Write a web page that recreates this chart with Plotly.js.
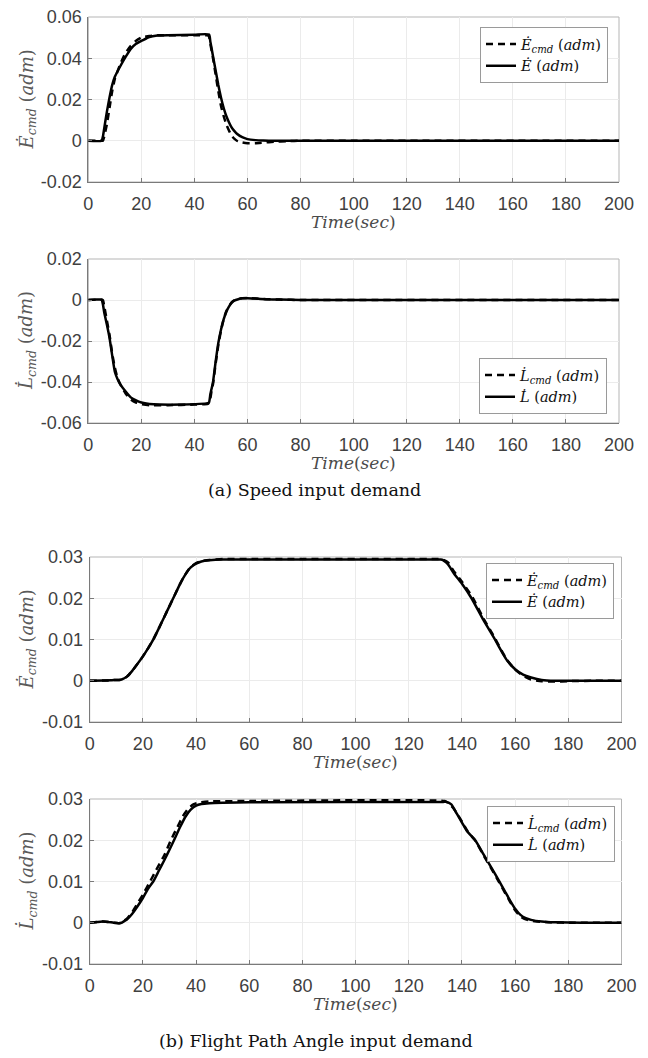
<!DOCTYPE html>
<html>
<head>
<meta charset="utf-8">
<script src="https://cdn.plot.ly/plotly-3.0.1.min.js"></script>
<style>html,body{margin:0;padding:0;background:#fff;}#chart{width:648px;height:1058px;}</style>
</head>
<body>
<div id="chart"></div>
<script>
// ---------- (a) Speed input demand : E-dot ----------
const speedEcmdT = [0,5,5.5,6,7,8,9,10,12,14,16,18,20,23,26,30,40,45,45.5,46,47,48,49,50,51,52,53,54,55,56,58,60,63,66,70,75,80,100,200];
const speedEcmdV = [0,0,0,0.002,0.008,0.016,0.024,0.030,0.037,0.0425,0.046,0.0485,0.0500,0.0508,0.0511,0.0511,0.0511,0.0511,0.0505,0.047,0.040,0.032,0.024,0.017,0.012,0.008,0.005,0.0025,0.001,0,-0.0008,-0.0012,-0.0012,-0.0009,-0.0005,-0.0002,0,0,0];
const speedET = [0,5,5.5,6,7,8,9,10,12,14,16,18,20.6,23,26,30,40,45.5,46,47,48,49,50,51,52,53,54,55,56,58,60,63,66,70,80,200];
const speedEV = [0,0,0.002,0.006,0.014,0.021,0.027,0.031,0.036,0.0405,0.0445,0.047,0.0488,0.0503,0.051,0.0512,0.0514,0.0515,0.048,0.041,0.034,0.027,0.021,0.016,0.012,0.009,0.0065,0.0048,0.0034,0.0017,0.0008,0.0003,0.0001,0,0,0];

// ---------- (a) Speed input demand : L-dot ----------
const speedLcmdT = [0,3,4.5,5.5,6,7,8,9,10,11,12,14,16,18,20,23,30,40,45,45.5,46,46.5,47,48,49,50,51,52,53,54,55,56.5,58,60,63,67,72,80,200];
const speedLcmdV = [0,0.0002,0.0003,0,-0.003,-0.010,-0.017,-0.026,-0.033,-0.038,-0.041,-0.0455,-0.0485,-0.050,-0.0508,-0.0513,-0.0513,-0.051,-0.0507,-0.050,-0.048,-0.044,-0.041,-0.031,-0.022,-0.015,-0.0095,-0.0055,-0.003,-0.0012,-0.0002,0.0005,0.0009,0.001,0.0007,0.0004,0.0002,0,0];
const speedLT = [0,3,4.5,5,5.5,6,7,8,9,10,11,12,14,16,18,20,23,27,35,45,45.5,46,46.5,47,48,49,50,51,52,53,54,55,56.5,58,60,63,67,72,80,200];
const speedLV = [0,0.0002,0.0003,0.0002,-0.002,-0.006,-0.012,-0.0185,-0.027,-0.035,-0.0385,-0.041,-0.0445,-0.0475,-0.049,-0.050,-0.0507,-0.051,-0.051,-0.0503,-0.0500,-0.046,-0.043,-0.040,-0.030,-0.021,-0.0145,-0.0095,-0.0058,-0.0032,-0.0014,-0.0003,0.0004,0.0008,0.0009,0.0007,0.0004,0.0002,0,0];

// ---------- (b) Flight Path Angle input demand : E-dot ----------
const fpaEcmdT = [0,8,10,11,12,14,16,18,20,22,24,26,28,30,32,34,36,38,40,42,45,50,60,131,132,134,135,137,140,144,148,152.5,155,157,160,163,166,170,175,180,190,200];
const fpaEcmdV = [0,0.0001,0.0002,0.0002,0.0003,0.001,0.0024,0.0041,0.0059,0.0079,0.0101,0.0127,0.0154,0.0181,0.0208,0.0235,0.0258,0.0276,0.0285,0.029,0.0293,0.0295,0.0295,0.0295,0.0295,0.029,0.0285,0.0265,0.024,0.0202,0.0152,0.0102,0.0072,0.005,0.0027,0.0012,0.0003,-0.0001,-0.0002,-0.0001,0,0];
const fpaET = [0,8,10,11,12,14,16,18,20,22,24,26,28,30,32,34,36,38,40,42,45,50,60,131,132,133,134,135,137,140,143.6,148,152.4,155,157,160,163,166,170,175,200];
const fpaEV = [0,0.0001,0.0002,0.0002,0.0003,0.001,0.0024,0.0041,0.0059,0.0079,0.0101,0.0127,0.0154,0.0181,0.0208,0.0235,0.0258,0.0275,0.0284,0.0289,0.0292,0.0294,0.0294,0.0294,0.0294,0.0292,0.0287,0.028,0.026,0.0235,0.02,0.0148,0.01,0.007,0.0049,0.0028,0.0015,0.0008,0.0002,0,0];

// ---------- (b) Flight Path Angle input demand : L-dot ----------
const fpaLcmdT = [0,3,5,7,9,11,12,13,14,16,18,20,22.7,25,28,30.5,33,35,37,39,41,45,60,133.5,135,137,140,142,145,148,151,154,156,158,160,162,164,166,170,175,180,200];
const fpaLcmdV = [0,0.0002,0.0003,0.0002,0,-0.0001,0,0.0005,0.001,0.0026,0.0047,0.0068,0.01,0.0128,0.0163,0.02,0.0232,0.0258,0.0276,0.0287,0.0291,0.0294,0.0295,0.0295,0.029,0.0276,0.0245,0.0223,0.0199,0.0165,0.0132,0.0098,0.0075,0.0052,0.003,0.0015,0.0008,0.0005,0.0002,0.0001,0,0];
const fpaLT = [0,3,5,7,9,11,12,13,14,16,18,20,22,23.9,26,28,30,31.7,34,36,38,40,42,45,50,60,133,134,136,138,140,142,145,148,151,154,156,158,160,162,164,166,170,175,185,200];
const fpaLV = [0,0.0002,0.0003,0.0002,0,-0.0001,0,0.0004,0.0008,0.0022,0.004,0.006,0.0083,0.01,0.0126,0.0151,0.0177,0.02,0.0232,0.0257,0.0274,0.0284,0.0288,0.029,0.0291,0.0292,0.0293,0.0293,0.0287,0.0265,0.0243,0.0221,0.02,0.0167,0.0134,0.0101,0.0078,0.0055,0.0034,0.0019,0.0011,0.0007,0.0003,0.0001,0,0];

// ---------- tick labels ----------
const xTickVals = [0,20,40,60,80,100,120,140,160,180,200];
const xTickText = ['0','20','40','60','80','100','120','140','160','180','200'];
const y1TickVals = [-0.02,0,0.02,0.04,0.06];
const y1TickText = ['-0.02','0','0.02','0.04','0.06'];
const y2TickVals = [-0.06,-0.04,-0.02,0,0.02];
const y2TickText = ['-0.06','-0.04','-0.02','0','0.02'];
const y3TickVals = [-0.01,0,0.01,0.02,0.03];
const y3TickText = ['-0.01','0','0.01','0.02','0.03'];

// ---------- text ----------
const labelEcmd = '<i>Ė</i><sub><i>cmd</i></sub> (<i>adm</i>)';
const labelE = '<i>Ė</i> (<i>adm</i>)';
const labelLcmd = '<i>L\u0307</i><sub><i>cmd</i></sub> (<i>adm</i>)';
const labelL = '<i>L\u0307</i> (<i>adm</i>)';
const xTitle = '<i>Time</i>(<i>sec</i>)';
const captionA = '(a) Speed input demand';
const captionB = '(b) Flight Path Angle input demand';

// ---------- geometry (pixels) ----------
const W = 648, H = 1058;
const px = v => v / W;
const py = v => 1 - v / H;
const boxes = [
  {l: 88.3, r: 619, t: 17, b: 182},
  {l: 88.3, r: 619, t: 259, b: 423},
  {l: 89.7, r: 621.5, t: 557, b: 722},
  {l: 89.7, r: 621.5, t: 799, b: 964}
];

const dashW = 2.5, solidW = 2.5;
function tr(x, y, name, dashed, i, lg) {
  return {
    x: x, y: y, name: name, type: 'scatter', mode: 'lines',
    xaxis: i === 1 ? 'x' : 'x' + i, yaxis: i === 1 ? 'y' : 'y' + i,
    legend: lg,
    line: {color: '#000', width: dashed ? dashW : solidW, dash: dashed ? '7px,5px' : 'solid', shape: 'spline', smoothing: 0.5},
    hoverinfo: 'skip'
  };
}

const data = [
  tr(speedEcmdT, speedEcmdV, labelEcmd, true, 1, 'legend'),
  tr(speedET, speedEV, labelE, false, 1, 'legend'),
  tr(speedLcmdT, speedLcmdV, labelLcmd, true, 2, 'legend2'),
  tr(speedLT, speedLV, labelL, false, 2, 'legend2'),
  tr(fpaEcmdT, fpaEcmdV, labelEcmd, true, 3, 'legend3'),
  tr(fpaET, fpaEV, labelE, false, 3, 'legend3'),
  tr(fpaLcmdT, fpaLcmdV, labelLcmd, true, 4, 'legend4'),
  tr(fpaLT, fpaLV, labelL, false, 4, 'legend4')
];

const axCol = '#7a7a7a';
const tickFont = {family: 'Liberation Sans, Arial, sans-serif', size: 18, color: '#404040'};
function xa(i) {
  const b = boxes[i - 1];
  return {
    domain: [px(b.l), px(b.r)], anchor: i === 1 ? 'y' : 'y' + i, range: [0, 200],
    tickvals: xTickVals, ticktext: xTickText,
    showline: true, linecolor: axCol, linewidth: 1, ticks: 'inside', ticklen: 4, tickcolor: axCol,
    showgrid: true, gridcolor: '#ebebeb', gridwidth: 1, zeroline: false,
    tickfont: tickFont, ticklabelstandoff: 5, fixedrange: true
  };
}
function ya(i, tv, tt, rng) {
  const b = boxes[i - 1];
  return {
    domain: [py(b.b), py(b.t)], anchor: i === 1 ? 'x' : 'x' + i, range: rng,
    tickvals: tv, ticktext: tt,
    showline: true, linecolor: axCol, linewidth: 1, ticks: 'inside', ticklen: 4, tickcolor: axCol,
    showgrid: true, gridcolor: '#ebebeb', gridwidth: 1, zeroline: false,
    tickfont: tickFont, ticklabelstandoff: 2, fixedrange: true
  };
}

const serif = 'DejaVu Serif, serif';
const legFont = {family: serif, size: 14.5, color: '#111'};
function leg(xr, yv, ya_) {
  return {x: px(xr), y: py(yv), xanchor: 'right', yanchor: ya_, xref: 'paper', yref: 'paper',
    bgcolor: '#fff', bordercolor: '#9a9a9a', borderwidth: 1, font: legFont,
    itemwidth: 30, tracegroupgap: 0};
}

const annotations = [];
const yTitles = [labelEcmd, labelLcmd, labelEcmd, labelLcmd];
boxes.forEach((b, k) => {
  annotations.push({xref: 'paper', yref: 'paper', x: px(27), y: py((b.t + b.b) / 2), xanchor: 'center', yanchor: 'middle',
    text: yTitles[k], textangle: -90, showarrow: false, font: {family: serif, size: 18, color: '#5a5a5a'}});
  annotations.push({xref: 'paper', yref: 'paper', x: px((b.l + b.r) / 2), y: py(b.b + 40), xanchor: 'center', yanchor: 'middle',
    text: xTitle, showarrow: false, font: {family: serif, size: 17, color: '#4a4a4a'}});
});
annotations.push({xref: 'paper', yref: 'paper', x: px(314), y: py(490), xanchor: 'center', yanchor: 'middle',
  text: captionA, showarrow: false, font: {family: serif, size: 17.5, color: '#111'}});
annotations.push({xref: 'paper', yref: 'paper', x: px(316), y: py(1041), xanchor: 'center', yanchor: 'middle',
  text: captionB, showarrow: false, font: {family: serif, size: 17.5, color: '#111'}});

const shapes = boxes.map((b, k) => ({
  type: 'rect', xref: (k === 0 ? 'x' : 'x' + (k + 1)) + ' domain', yref: (k === 0 ? 'y' : 'y' + (k + 1)) + ' domain',
  x0: 0, x1: 1, y0: 0, y1: 1, line: {color: '#b5b5b5', width: 1}, layer: 'below'
}));

const layout = {
  width: W, height: H, margin: {l: 0, r: 0, t: 0, b: 0},
  paper_bgcolor: '#fff', plot_bgcolor: '#fff', showlegend: true,
  xaxis: xa(1), xaxis2: xa(2), xaxis3: xa(3), xaxis4: xa(4),
  yaxis: ya(1, y1TickVals, y1TickText, [-0.02, 0.06]),
  yaxis2: ya(2, y2TickVals, y2TickText, [-0.06, 0.02]),
  yaxis3: ya(3, y3TickVals, y3TickText, [-0.01, 0.03]),
  yaxis4: ya(4, y3TickVals, y3TickText, [-0.01, 0.03]),
  legend: leg(608, 27, 'top'),
  legend2: leg(607, 414, 'bottom'),
  legend3: leg(614, 563, 'top'),
  legend4: leg(615, 806, 'top'),
  annotations: annotations, shapes: shapes
};

Plotly.newPlot('chart', data, layout, {displayModeBar: false, staticPlot: true});
</script>
</body>
</html>
